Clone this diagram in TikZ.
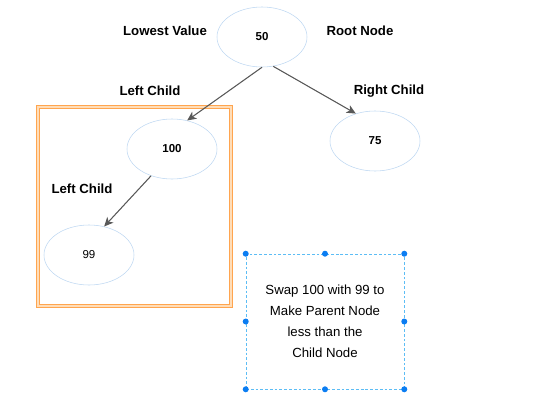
\documentclass[tikz,border=0pt]{standalone}
\usepackage{fontspec}
\setmainfont{Liberation Sans}
\usepackage{tikz}
\usetikzlibrary{arrows,arrows.meta}
\usetikzlibrary{positioning,shapes.geometric}
\definecolor{ringblue}{HTML}{BFD8F2}
\definecolor{arrowgray}{HTML}{595959}
\definecolor{boxorange}{HTML}{FFA54F}
\definecolor{boxorangelight}{HTML}{FFDDB8}
\definecolor{selblue}{HTML}{5CBDF5}
\definecolor{handleblue}{HTML}{0B7DF2}
\tikzset{
    font={\fontsize{9.4pt}{11}\selectfont},
    heap/.style={
           ellipse,
           draw=ringblue, thin,
           minimum width=2.25cm,
           minimum height=1.5cm,
           inner sep=0pt,
           text centered,
           font={\fontsize{8.2pt}{9}\selectfont},
           },
    caption/.style={font={\fontsize{9.4pt}{11}\selectfont\bfseries}},
    frame/.style={rectangle, draw=boxorange, line width=0.7pt,
           double=boxorangelight, double distance=0.9pt},
    note/.style={rectangle, draw=selblue, thin, dash pattern=on 2pt off 1.4pt,
           align=center, font={\fontsize{9.4pt}{14.9}\selectfont}},
    handle/.style={circle, fill=handleblue, inner sep=0pt, minimum size=0.15cm},
}

\begin{document}
\begin{tikzpicture}[->,>={Stealth[length=6.5pt,width=6pt,inset=1.8pt]}]

\useasboundingbox (-6.55,0.925) rectangle (6.85,-9.325);

\node[heap] (FIFTY) {\textbf{50}};

 % Children of the root
\node[heap, left of=FIFTY, node distance=2.25cm, yshift=-2.8cm] (HUNDRED) {\textbf{100}};

\node[heap, right of=FIFTY, node distance=2.825cm, yshift=-2.6cm] (SEVENTYFIVE) {\textbf{75}};

 % Child of 100
\node[heap, left of=HUNDRED, node distance=2.075cm, yshift=-2.65cm] (NINETYNINE) {99};

 % Captions
\node[caption, left of=FIFTY, node distance=2.425cm, yshift=0.15cm] (LOWEST) {Lowest Value};
\node[caption, right of=FIFTY, node distance=2.45cm, yshift=0.15cm] (ROOT) {Root Node};
\node[caption, left of=FIFTY, node distance=2.8cm, yshift=-1.35cm] (LEFTCHILD) {Left Child};
\node[caption, right of=FIFTY, node distance=3.175cm, yshift=-1.35cm] (RIGHTCHILD) {Right Child};
\node[caption, left of=HUNDRED, node distance=2.25cm, yshift=-1cm] (LEFTCHILDTWO) {Left Child};

 % Orange frame round the swapped pair
\node[frame, left of=FIFTY, node distance=3.1875cm, yshift=-4.2375cm,
minimum width=4.825cm, minimum height=4.975cm] (SUBTREE) {};

 % Selected note
\node[note, right of=FIFTY, node distance=1.575cm, yshift=-7.1125cm,
minimum width=3.95cm, minimum height=3.375cm] (SWAP) {%
Swap 100 with 99 to\\Make Parent Node\\less than the\\Child Node};

\foreach \a [count=\i] in {north west,north,north east,west,east,south west,south,south east}
  \node[handle] (HANDLE\i) at (SWAP.\a) {};

\path (FIFTY.south)   edge[draw=arrowgray, fill=arrowgray, line width=0.75pt]   (HUNDRED.62)
(FIFTY.-69)   edge[draw=arrowgray, fill=arrowgray, line width=0.75pt]   (SEVENTYFIVE.125)
(HUNDRED.-128)   edge[draw=arrowgray, fill=arrowgray, line width=0.75pt]   (NINETYNINE.62)
;

\end{tikzpicture}
\end{document}
